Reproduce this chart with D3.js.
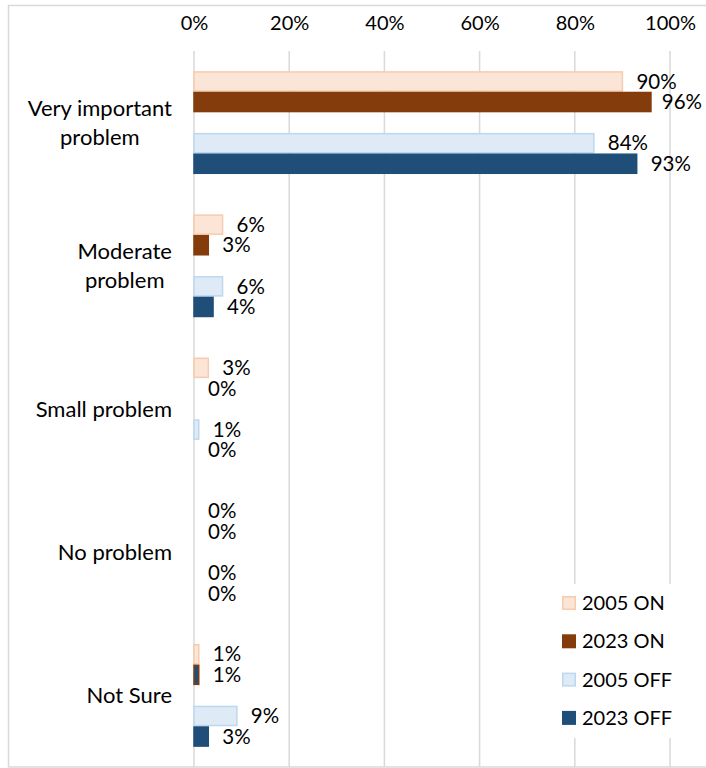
<!DOCTYPE html>
<html>
<head>
<meta charset="utf-8">
<script src="https://cdn.jsdelivr.net/npm/d3@7"></script>
<style>
  html, body { margin: 0; padding: 0; background: #fff; }
  svg text { font-family: Lato, "Open Sans", sans-serif; fill: #000; }
</style>
</head>
<body>
<svg id="chart" width="706" height="768"></svg>
<script>
// ---- data ----
const categories = [["Very important", "problem"], ["Moderate", "problem"], ["Small problem"], ["No problem"], ["Not Sure"]];
const seriesNames = ["2005 ON", "2023 ON", "2005 OFF", "2023 OFF"];
const on2005  = [90, 6, 3, 0, 1];
const on2023  = [96, 3, 0, 0, 1];
const off2005 = [84, 6, 1, 0, 9];
const off2023 = [93, 4, 0, 0, 3];
const tickValues = [0, 20, 40, 60, 80, 100];

(function () {
const seriesValues = [on2005, on2023, off2005, off2023];
const seriesSlot = [0, 1, 3, 4];
const fills   = ["#fbe5d6", "#843c0c", "#deebf7", "#1f4e79"];
const strokes = ["#f8cbad", "#843c0c", "#bdd7ee", "#1f4e79"];

const svg = d3.select("#chart");
const pLeft = 194, pRight = 670, pTop = 51, pBottom = 767;

// frame
svg.append("rect").attr("x", 8.5).attr("y", 5.5).attr("width", 710).attr("height", 761.5)
  .attr("fill", "none").attr("stroke", "#d9d9d9").attr("stroke-width", 1.5);

const x = d3.scaleLinear().domain([0, 100]).range([pLeft, pRight]);
const y = d3.scaleBand().domain(d3.range(categories.length)).range([pTop, pBottom]).padding(0);
const slot = d3.scaleBand().domain(d3.range(5)).range([0, y.bandwidth()]).paddingInner(0).paddingOuter(0.98);

// gridlines
svg.append("g").selectAll("line").data(tickValues).join("line")
  .attr("x1", d => x(d)).attr("x2", d => x(d))
  .attr("y1", pTop).attr("y2", pBottom)
  .attr("stroke", "#d9d9d9").attr("stroke-width", 1.5);

// top axis labels
const axis = d3.axisTop(x).tickValues(tickValues).tickFormat(d => d + "%").tickSize(0).tickPadding(0);
const ag = svg.append("g").attr("transform", "translate(0,30)").call(axis);
ag.select(".domain").remove();
ag.selectAll("text").attr("font-size", 20).attr("font-family", "Lato, sans-serif").attr("fill", "#000");

// bars
const barData = [];
seriesValues.forEach((vals, s) => {
  vals.forEach((v, c) => barData.push({ s, c, v }));
});
svg.append("g").selectAll("rect").data(barData).join("rect")
  .attr("x", x(0))
  .attr("y", d => y(d.c) + slot(seriesSlot[d.s]) + 0.75)
  .attr("width", d => Math.max(0, x(d.v) - x(0)))
  .attr("height", slot.bandwidth() - 1.5)
  .attr("fill", d => (d.c === 4 && d.s === 1) ? fills[3] : fills[d.s])
  .attr("stroke", d => d.v > 0 ? strokes[d.s] : "none")
  .attr("stroke-width", 1.5);

// value labels
const lbl = svg.append("g").selectAll("text").data(barData).join("text")
  .attr("y", d => y(d.c) + slot(seriesSlot[d.s]) + slot.bandwidth() / 2)
  .attr("dy", "0.35em")
  .attr("font-size", 20.5)
  .text(d => d.v + "%");
lbl.each(function(d) {
  const w = this.getComputedTextLength();
  let xx = x(d.v) + 14;
  if (xx + w > 702) xx = 702 - w;
  d3.select(this).attr("x", xx);
});

// category labels (right-aligned block, lines centered)
const catG = svg.append("g");
categories.forEach((lines, c) => {
  const lh = 29;
  const cy = y(c) + y.bandwidth() / 2;
  const texts = lines.map((ln, i) => catG.append("text")
    .attr("font-size", 22)
    .attr("text-anchor", "middle")
    .attr("dy", "0.35em")
    .attr("y", cy + (i - (lines.length - 1) / 2) * lh)
    .text(ln));
  const maxW = d3.max(texts, t => t.node().getComputedTextLength());
  texts.forEach(t => t.attr("x", 172 - maxW / 2));
});

// legend
const lg = svg.append("g");
lg.append("rect").attr("x", 552).attr("y", 584).attr("width", 140).attr("height", 154).attr("fill", "#fff");
seriesNames.forEach((name, i) => {
  const cy = 603 + i * 38.3;
  lg.append("rect").attr("x", 562.75).attr("y", cy - 6.25).attr("width", 12.5).attr("height", 12.5)
    .attr("fill", fills[i]).attr("stroke", strokes[i]).attr("stroke-width", 1.5);
  lg.append("text").attr("x", 582).attr("y", cy).attr("dy", "0.35em").attr("font-size", 20).text(name);
});
})();
</script>
</body>
</html>
